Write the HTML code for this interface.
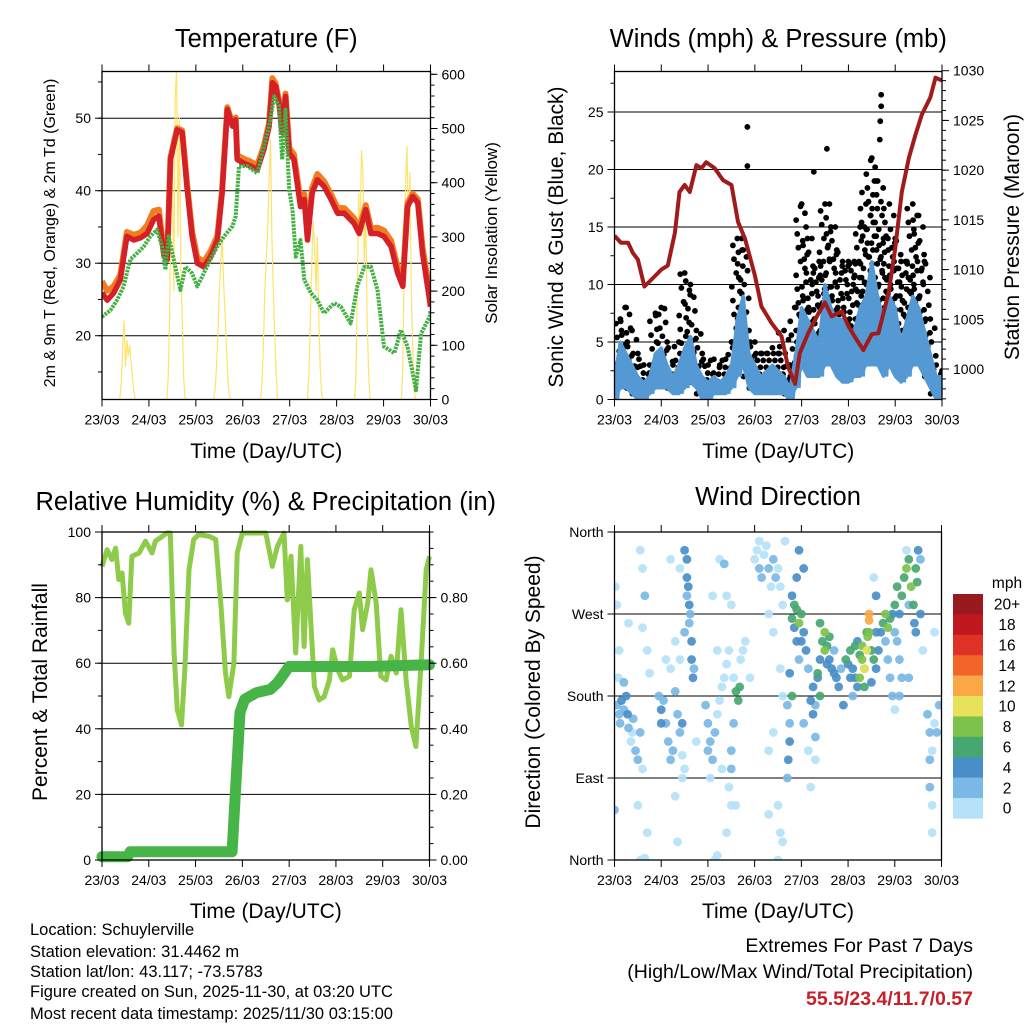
<!DOCTYPE html>
<html><head><meta charset="utf-8"><style>
html,body{margin:0;padding:0;background:#fff}
svg{display:block;font-family:"Liberation Sans",Arial,sans-serif}
</style></head><body>
<svg id="fig" width="1024" height="1024" viewBox="0 0 1024 1024" xmlns="http://www.w3.org/2000/svg">
<rect width="1024" height="1024" fill="#fff"/>
<g id="p1"></g>
<g id="p2"></g>
<g id="p3"></g>
<g id="p4"></g>
<g id="cb"></g>
<g font-size="16.5" fill="#000">
<text x="30" y="935">Location: Schuylerville</text>
<text x="30" y="957">Station elevation: 31.4462 m</text>
<text x="30" y="977">Station lat/lon: 43.117; -73.5783</text>
<text x="30" y="997">Figure created on Sun, 2025-11-30, at 03:20 UTC</text>
<text x="30" y="1019">Most recent data timestamp: 2025/11/30 03:15:00</text>
</g>
<g text-anchor="end" font-size="19.5">
<text x="973" y="952">Extremes For Past 7 Days</text>
<text x="973" y="978">(High/Low/Max Wind/Total Precipitation)</text>
<text x="973" y="1005" fill="#c8202a" font-weight="bold">55.5/23.4/11.7/0.57</text>
</g>
</svg>
<script>
// ---------- DATA ----------
const dayLabels = ["23/03","24/03","25/03","26/03","27/03","28/03","29/03","30/03"];
const tempT = [0,.11,.25,.39,.53,.68,.82,.96,1.10,1.21,1.32,1.39,1.46,1.60,1.71,1.81,1.92,2.03,2.17,2.31,2.46,2.56,2.67,2.78,2.85,2.88,3.02,3.17,3.31,3.45,3.56,3.63,3.70,3.77,3.84,3.91,3.99,4.09,4.23,4.31,4.38,4.48,4.59,4.73,4.88,5.02,5.16,5.37,5.48,5.62,5.73,5.87,6.01,6.16,6.30,6.41,6.51,6.62,6.73,6.83,6.98,7.0];
const temp2m = [25.9,24.9,25.9,27.7,33.7,33.2,33.5,34.1,36,36.5,31,30.5,44.3,48.4,48,40.6,33.7,30,29.5,30.9,33.2,39.7,51.2,48.9,49.8,44.3,43.8,43.4,42.9,45.7,48.9,54.9,54.4,52.1,48,53,45.2,44.3,37.8,38.8,33.2,39.7,41.5,40.6,38.8,36.9,36.9,35.5,34.1,37.4,34.1,34.1,33.7,32.3,28.6,26.8,37.8,39.2,38.3,31.4,24.9,24];
const temp9m = [27.5,26.2,26.8,28.4,34.3,33.9,34.2,35.2,37.2,37.4,31.6,30.9,44.6,48.6,48.3,41.2,34.4,30.8,30.2,31.6,33.8,40.1,51.5,49.2,50.1,44.9,44.4,44.0,43.5,46.2,49.3,55.5,54.8,52.5,48.5,53.4,45.9,45.0,38.6,39.5,34.0,40.4,42.3,41.3,39.5,37.6,37.6,36.2,34.8,38.0,34.8,34.9,34.5,33.1,29.4,27.6,38.3,39.6,38.8,32.2,26.0,24.8];
const dewT = [0,.18,.32,.46,.60,.75,.89,1.03,1.17,1.28,1.35,1.42,1.53,1.67,1.78,1.92,2.03,2.17,2.31,2.46,2.60,2.78,2.85,2.92,3.10,3.31,3.45,3.56,3.67,3.77,3.84,3.91,3.99,4.06,4.13,4.23,4.31,4.45,4.59,4.73,4.95,5.09,5.30,5.44,5.59,5.73,5.87,6.01,6.23,6.37,6.51,6.69,6.80,6.98,7.0];
const dewVals = [22.6,23.5,24.9,26.8,30.5,31.4,32.3,33.7,34.6,32.3,29.1,33.7,30.5,26.3,29.5,28.6,26.8,28.6,30.5,32.3,33.7,35.1,36.5,43.4,43.4,42.4,46.1,48.9,53,51.7,44.3,51.2,40.1,37.4,30.9,33.2,27.7,25.9,24.9,23.1,24.5,24,21.7,26.8,29.5,29.5,26.3,18.5,17.6,20.8,18.5,12.5,20.3,22.6,23.5];
const solarStart = [0.38,1.38,2.38,3.38,4.38,5.38,6.38];
const solarDay0 = [0,30,90,146,60,110,80,100,70,40,15,0,0,0,0,0];
const solarDay1 = [0,40,150,380,430,200,560,610,300,520,250,150,40,0,0,0];
const solarDay2 = [0,20,60,120,200,250,300,220,160,100,40,10,0,0,0,0];
const solarDay3 = [0,30,100,200,260,320,400,480,300,200,120,50,0,0,0,0];
const solarDay4 = [0,50,150,250,330,280,200,300,150,60,10,0,0,0,0,0];
const solarDay5 = [0,40,200,380,300,460,420,250,350,150,50,0,0,0,0,0];
const solarDay6 = [0,60,250,400,467,300,420,200,100,20,0,0,0,0,0,0];
const solarDays = [solarDay0,solarDay1,solarDay2,solarDay3,solarDay4,solarDay5,solarDay6];
const solarStep = 0.03;

const windT = [0,.125,.25,.375,.5,.625,.75,.875,1,1.125,1.25,1.375,1.5,1.625,1.75,1.875,2,2.125,2.25,2.375,2.5,2.625,2.75,2.875,3,3.125,3.25,3.375,3.5,3.625,3.75,3.875,4,4.125,4.25,4.375,4.5,4.625,4.75,4.875,5,5.125,5.25,5.375,5.5,5.625,5.75,5.875,6,6.125,6.25,6.375,6.5,6.625,6.75,6.875,7];
const windHi = [2,5,4,3,2,1.5,2,4,4.5,3,2,3,4.5,5.5,3,2,1.5,2,1.5,2,3,7,9,4,3,2,2.5,3,2.5,2,1,4,8,7,6,5,10,8,7,7,6,6,8,9,12,9,7,9,8,5,7,9,8,6,4,2,2];
const windLo = [0,1,1,.5,0,0,.5,1,1,1,.5,.5,1,1.5,1,0,0,.5,.5,.5,1,2,3,1,.5,.5,.5,.5,.5,.5,0,1,3,2,2,2,3,3,2,1.5,1.5,2,2,3,3,3,2,3,2,1.5,2,3,3,2,1,0,.5];
const gustVals = [3,7,8,6,4,3,3,7.5,8,5,3,5,11,10,6,4,3,3.5,3,3.5,5,14,13,6,5,4,4,4.5,4,6,3,8,17,14,11,12,17,15,13,12,12,12,15,17,21,19,14,17,14,12,12,17,16,12,7,3,2.5];
const gustOutT = [2.84,2.84,4.54,5.70,5.70,5.68,5.67,4.26,5.29];
const gustOutV = [23.7,20.3,21.8,26.5,25.5,24.2,22.6,19.8,18];
const presT = [0,.14,.29,.39,.5,.64,.79,1,1.14,1.29,1.39,1.5,1.61,1.75,1.86,1.96,2.14,2.32,2.5,2.64,2.79,3,3.14,3.36,3.57,3.71,3.86,3.96,4.14,4.36,4.5,4.64,4.86,5,5.18,5.32,5.5,5.64,5.86,6,6.14,6.29,6.43,6.57,6.75,6.86,7.0];
const presVals = [1013.4,1012.7,1012.7,1011.7,1011.0,1008.3,1009.0,1010.0,1010.4,1013.7,1017.8,1018.5,1017.8,1020.5,1020.2,1020.8,1020.2,1019.0,1018.5,1014.8,1013.1,1009.4,1006.3,1004.6,1003.3,1000.2,998.5,1001.6,1003.6,1005.6,1006.7,1005.3,1005.8,1004.3,1002.9,1001.9,1003.5,1003.6,1007.7,1012.1,1017.8,1021.2,1023.5,1025.6,1027.3,1029.3,1029.0];

const rhT = [0,.11,.21,.29,.36,.43,.5,.57,.64,.79,.93,1.07,1.14,1.29,1.39,1.46,1.54,1.61,1.7,1.77,1.86,1.96,2.07,2.29,2.43,2.54,2.64,2.71,2.82,2.89,3,3.5,3.64,3.75,3.89,3.96,4.04,4.14,4.25,4.32,4.39,4.46,4.54,4.64,4.75,4.86,4.93,5.04,5.14,5.29,5.39,5.5,5.57,5.68,5.75,5.86,5.96,6.07,6.18,6.29,6.39,6.5,6.61,6.71,6.82,6.93,7.0];
const rhVals = [89.5,94.6,91.6,95.1,85.5,87.5,75.3,72.2,92.6,93.6,97.2,93.6,97.2,98.7,99.7,99.7,63.1,45.8,41.2,58,88.5,97.7,99.2,98.7,97.7,78.3,57,49.8,60,93.6,99.7,99.7,89.5,95.6,99.7,79.3,92.6,63.1,95.6,65.1,91.6,73.2,52.9,48.8,49.8,54.9,64.1,58,54.9,56,76.3,81.4,70.2,78.3,88.5,78.3,56,54.9,62.1,57,76.3,54.9,40.7,34.6,60,88.5,92.6];
const precipT = [0,0.55,0.6,2.78,2.85,2.95,3.05,3.3,3.6,3.75,3.9,4.0,5.7,7.0];
const precipVals = [0.01,0.01,0.025,0.025,0.2,0.45,0.49,0.51,0.52,0.54,0.57,0.59,0.59,0.595];

const dirT = [0.05,0.1,0.12,0.15,0.2,0.25,0.28,0.3,0.35,0.4,0.45,0.5,0.55,0.6,0.08,0.1,0.02,0.05,0.3,0.55,0.6,0.65,0.6,0.7,0.75,0.5,0.7,0.55,0.65,0.0,0.2,0.38,
0.95,1.0,1.0,1.05,1.1,1.15,1.2,1.25,1.3,1.35,1.4,1.45,1.5,1.5,1.55,1.55,1.55,1.6,1.6,1.65,1.65,1.7,1.68,1.62,1.58,1.5,1.4,1.2,1.1,1.3,1.45,1.3,1.35,1.2,1.4,1.75,1.45,
1.95,2.0,2.05,2.0,2.1,2.15,2.2,2.25,2.3,2.35,2.4,2.45,2.2,2.1,2.25,2.35,2.4,2.5,2.55,2.6,2.65,2.68,2.55,2.5,2.5,2.45,2.5,2.4,2.15,2.2,2.7,2.75,2.8,2.6,2.9,2.3,2.05,
3.0,3.05,3.1,3.15,3.2,3.25,3.3,3.35,3.4,3.45,3.5,3.55,3.6,3.3,3.1,3.4,3.55,3.6,3.7,3.75,3.75,3.72,3.7,3.3,3.4,3.5,3.55,3.5,3.6,3.3,3.65,3.8,3.85,3.85,3.9,3.95,3.9,3.95,3.9,4.05,3.95,3.8,3.75,3.8,
4.0,4.05,4.1,4.15,4.2,4.25,4.3,4.35,4.4,4.45,4.5,4.55,4.6,4.65,4.7,4.75,4.8,4.85,4.9,4.4,4.35,4.5,4.3,4.4,4.6,4.55,4.05,4.15,4.2,4.3,4.25,4.7,4.95,4.0,
5.0,5.05,5.1,5.15,5.2,5.25,5.3,5.35,5.4,5.42,5.45,5.5,5.55,5.6,5.65,5.7,5.75,5.8,5.85,5.9,5.95,5.25,5.35,5.45,5.45,5.5,5.2,5.1,5.6,5.8,5.85,5.9,5.95,6.0,5.4,5.3,5.35,5.6,5.55,5.05,5.15,
6.0,6.05,6.1,6.15,6.2,6.25,6.3,6.35,6.4,6.45,6.5,6.48,6.42,6.05,6.1,6.15,6.1,6.0,6.6,6.7,6.75,6.8,6.85,6.75,6.8,6.8,6.75,6.9,6.95,6.85,6.25,6.3,6.55,6.55,6.3,6.45];
const dirDeg = [170,160,150,175,165,180,160,145,130,155,120,110,140,100,200,230,300,280,260,340,320,290,255,230,205,60,30,0,2,55,195,140,
180,165,150,175,150,130,110,120,185,160,140,115,100,340,330,310,290,280,260,240,220,210,200,270,300,250,220,210,220,240,90,70,20,330,320,130,150,
170,150,130,120,110,140,160,175,190,200,215,230,230,290,330,325,290,280,200,185,175,190,150,120,100,80,60,30,0,5,220,230,240,60,200,100,90,
330,340,320,310,335,345,320,300,330,310,320,300,280,270,350,250,210,180,170,150,130,110,90,120,140,60,30,0,20,50,350,265,280,255,240,260,275,220,310,320,340,290,205,180,
270,250,230,210,175,160,170,200,220,240,250,235,220,210,230,200,190,210,170,260,205,230,135,180,245,215,150,120,80,110,190,205,220,240,
215,230,210,200,190,225,220,210,230,245,250,230,220,210,230,250,260,270,255,265,270,200,190,270,263,195,240,180,250,240,220,200,180,165,250,235,210,290,310,200,235,
280,300,270,290,310,320,330,300,280,320,340,305,260,240,220,200,180,250,230,160,140,120,150,110,60,30,80,140,170,250,340,280,330,270,200,250];
const dirSpd = [2,3,3,4,2,4,4,3,1,2,2,3,3,1,1,1,0,1,0,0,1,2,1,0,1,1,1,0,0,2,2,1,
2,4,4,3,3,2,3,2,2,3,2,1,0,4,4,4,3,4,3,4,4,3,5,3,5,2,1,1,1,1,1,0,0,1,0,1,4,
2,2,3,2,3,2,1,1,1,1,0,1,1,1,1,2,1,1,1,7,6,7,3,3,2,1,1,1,1,0,1,1,0,1,1,1,0,
1,1,2,2,1,0,2,1,2,3,1,1,0,0,0,1,1,1,3,2,4,4,3,0,1,1,1,1,1,1,1,6,6,4,4,8,6,3,4,4,4,4,4,7,
6,4,4,3,4,4,3,4,5,7,8,6,4,4,3,4,4,3,4,7,7,8,2,6,6,4,2,1,0,1,5,4,6,4,
4,6,5,4,4,7,8,9,10,9,8,7,6,5,4,5,6,8,8,6,4,8,6,12,13,4,4,3,5,3,2,2,2,1,6,9,10,4,1,4,6,
6,6,4,7,7,8,7,8,6,7,5,6,4,3,2,2,3,2,1,2,2,1,1,2,1,1,2,3,2,1,1,2,3,5,2,4];
const cbLabels = ["20+","18","16","14","12","10","8","6","4","2","0"];
const cbColors = ["#981a1e","#c0181f","#e03127","#f26529","#f9a845","#e8e25a","#7dc24b","#47a771","#4a8ec8","#7ab8e5","#b5e2f8"];

// ---------- RENDER ----------
const NS="http://www.w3.org/2000/svg";
function mk(parent,tag,attrs){const e=document.createElementNS(NS,tag);for(const k in attrs)e.setAttribute(k,attrs[k]);parent.appendChild(e);return e;}
function txt(parent,x,y,s,size,anchor,rot){const t=mk(parent,"text",{x:x,y:y,"font-size":size,"text-anchor":anchor||"middle"});if(rot)t.setAttribute("transform","rotate(-90 "+x+" "+y+")");t.textContent=s;return t;}
function lin(d0,d1,r0,r1){return v=>r0+(v-d0)/(d1-d0)*(r1-r0);}

function frame(g,P,title,ty,xlabelY){
  for(let i=0;i<8;i++){const x=P.xs(i);
    const tk=mk(g,"line",{x1:x,x2:x,y1:P.b,y2:P.b+7,stroke:"#000","stroke-width":1});
    
    mk(g,"line",{x1:x,x2:x,y1:P.t,y2:P.t-7,stroke:"#000","stroke-width":1});
    const l=txt(g,x,P.b+25,dayLabels[i],14);
    
  }
  const t=txt(g,(P.l+P.r)/2,ty,title,25.5);
  
  const xl=txt(g,(P.l+P.r)/2,xlabelY,"Time (Day/UTC)",21);
  
}
function box(g,P){const r=mk(g,"rect",{x:P.l,y:P.t,width:P.r-P.l,height:P.b-P.t,fill:"none",stroke:"#000","stroke-width":1.3});
  }
function yTicks(g,P,ys,side,majors,minors,fmt){
  const x=side==="l"?P.l:P.r, dir=side==="l"?-1:1;
  minors.forEach(v=>{const y=ys(v);if(y<P.t-0.5||y>P.b+0.5)return;mk(g,"line",{x1:x,x2:x+dir*4,y1:y,y2:y,stroke:"#000","stroke-width":1});});
  majors.forEach(v=>{const y=ys(v);mk(g,"line",{x1:x,x2:x+dir*7,y1:y,y2:y,stroke:"#000","stroke-width":1});
    const l=txt(g,x+dir*11,y+5,fmt(v),14,side==="l"?"end":"start");
    });
}
function grid(g,P,ys,vals){vals.forEach(v=>{const y=ys(v);const l=mk(g,"line",{x1:P.l,x2:P.r,y1:y,y2:y,stroke:"#000","stroke-width":1});
  });}
function range(a,b,s){const r=[];for(let v=a;v<=b+1e-9;v+=s)r.push(+v.toFixed(4));return r;}
function pathOf(xs,ys,T,V){return T.map((t,i)=>(i?"L":"M")+xs(t).toFixed(1)+","+ys(V[i]).toFixed(1)).join("");}

// Panel 1
(function(){
  const g=document.getElementById("p1");
  const P={l:102,r:430.5,t:71.5,b:399.5};P.xs=lin(0,7,P.l,P.r);
  const ys=lin(20,30,335.7,263.2), ss=lin(0,100,399.5,345.3);
  grid(g,P,ys,[20,30,40,50]);
  const cp=mk(g,"clipPath",{id:"c1"});mk(cp,"rect",{x:P.l,y:P.t,width:P.r-P.l,height:P.b-P.t});
  const d=mk(g,"g",{"clip-path":"url(#c1)"});
  solarDays.forEach((arr,k)=>{const T=arr.map((_,i)=>solarStart[k]+i*solarStep);
    const p=mk(d,"path",{d:pathOf(P.xs,ss,T,arr),fill:"none",stroke:"#fde36a","stroke-width":1.2});
    });
  const o=mk(d,"path",{d:pathOf(P.xs,ys,tempT,temp9m),fill:"none",stroke:"#f47c20","stroke-width":6,"stroke-linejoin":"round"});
  
  const r=mk(d,"path",{d:pathOf(P.xs,ys,tempT,temp2m),fill:"none",stroke:"#d42027","stroke-width":5.5,"stroke-linejoin":"round"});
  
  const gr=mk(d,"path",{d:pathOf(P.xs,ys,dewT,dewVals),fill:"none",stroke:"#44b044","stroke-width":4,"stroke-dasharray":"2.5 1","stroke-linejoin":"round"});
  
  box(g,P);
  yTicks(g,P,ys,"l",[20,30,40,50],range(15,55,5),v=>String(v));
  yTicks(g,P,ss,"r",[0,100,200,300,400,500,600],range(0,600,20),v=>String(v));
  frame(g,P,"Temperature (F)",47,458);
  const a=txt(g,55,233,"2m & 9m T (Red, Orange) & 2m Td (Green)",16,"middle",true);
  
  const b=txt(g,497,233,"Solar Insolation (Yellow)",17,"middle",true);
  
})();

// Panel 2
(function(){
  const g=document.getElementById("p2");
  const P={l:614.5,r:942,t:71.5,b:399.5};P.xs=lin(0,7,P.l,P.r);
  const ys=lin(0,5,399.5,342), ps=lin(1000,1030,369,70.7);
  grid(g,P,ys,[5,10,15,20,25]);
  const cp=mk(g,"clipPath",{id:"c2"});mk(cp,"rect",{x:P.l,y:P.t-4,width:P.r-P.l,height:P.b-P.t+4});
  const d=mk(g,"g",{"clip-path":"url(#c2)"});
  const pat=[-2.5,1.5,-0.5,2.5,-1.5,0.5,-2,2];
  windT.forEach((t,i)=>{let k=0;
    for(let v=Math.max(windLo[i]+0.5,windHi[i]-2);v<=gustVals[i]+1e-6;v+=0.6){
      const c=mk(d,"circle",{cx:P.xs(t)+pat[k%8]*2.2,cy:ys(v),r:2.9,fill:"#000"});
      k++;}
    const c=mk(d,"circle",{cx:P.xs(t),cy:ys(gustVals[i]),r:2.9,fill:"#000"});
    
  });
  gustOutT.forEach((t,i)=>{const c=mk(d,"circle",{cx:P.xs(t),cy:ys(gustOutV[i]),r:2.9,fill:"#000"});
    });
  let pts=windT.map((t,i)=>P.xs(t).toFixed(1)+","+ys(windHi[i]).toFixed(1));
  for(let i=windT.length-1;i>=0;i--)pts.push(P.xs(windT[i]).toFixed(1)+","+ys(windLo[i]).toFixed(1));
  const band=mk(d,"polygon",{points:pts.join(" "),fill:"#5499d3",stroke:"#5499d3","stroke-width":3,"stroke-linejoin":"round"});
  
  let zz="";windT.forEach((t,i)=>{zz+=(i?"L":"M")+P.xs(t).toFixed(1)+","+ys(windHi[i]).toFixed(1);
    if(i<windT.length-1)zz+="L"+P.xs(t+0.0625).toFixed(1)+","+ys(windLo[i]).toFixed(1);});
  const zl=mk(d,"path",{d:zz,fill:"none",stroke:"#5499d3","stroke-width":4});
  
  const pr=mk(d,"path",{d:pathOf(P.xs,ps,presT,presVals),fill:"none",stroke:"#a01c1c","stroke-width":4,"stroke-linejoin":"round"});
  
  box(g,P);
  yTicks(g,P,ys,"l",[0,5,10,15,20,25],range(0,27.5,2.5),v=>String(v));
  yTicks(g,P,ps,"r",[1000,1005,1010,1015,1020,1025,1030],range(997,1030,1),v=>String(v));
  frame(g,P,"Winds (mph) & Pressure (mb)",47,458);
  const a=txt(g,563,237,"Sonic Wind & Gust (Blue, Black)",21,"middle",true);
  
  const b=txt(g,1019,237,"Station Pressure (Maroon)",21,"middle",true);
  
})();

// Panel 3
(function(){
  const g=document.getElementById("p3");
  const P={l:102,r:429.5,t:532,b:860};P.xs=lin(0,7,P.l,P.r);
  const ys=lin(0,100,860,532), ps=lin(0,1,860,532);
  grid(g,P,ys,[20,40,60,80]);
  const cp=mk(g,"clipPath",{id:"c3"});mk(cp,"rect",{x:P.l-6,y:P.t-4,width:P.r-P.l+12,height:P.b-P.t+10});
  const d=mk(g,"g",{"clip-path":"url(#c3)"});
  const rh=mk(d,"path",{d:pathOf(P.xs,ys,rhT,rhVals),fill:"none",stroke:"#8fcb4a","stroke-width":5,"stroke-linejoin":"round"});
  
  const pc=mk(d,"path",{d:pathOf(P.xs,ps,precipT,precipVals),fill:"none",stroke:"#47b447","stroke-width":11,"stroke-linejoin":"round","stroke-linecap":"round"});
  
  box(g,P);
  yTicks(g,P,ys,"l",[0,20,40,60,80,100],range(0,100,10),v=>String(v));
  yTicks(g,P,ps,"r",[0,0.2,0.4,0.6,0.8],range(0,1,0.05),v=>v.toFixed(2));
  frame(g,P,"Relative Humidity (%) & Precipitation (in)",510,918);
  const a=txt(g,47,692,"Percent & Total Rainfall",21,"middle",true);
  
})();

// Panel 4
(function(){
  const g=document.getElementById("p4");
  const P={l:614.5,r:941.5,t:532,b:860};P.xs=lin(0,7,P.l,P.r);
  const ys=lin(0,360,860,532);
  grid(g,P,ys,[90,180,270]);
  const cp=mk(g,"clipPath",{id:"c4"});mk(cp,"rect",{x:P.l,y:P.t,width:P.r-P.l,height:P.b-P.t});
  const d=mk(g,"g",{"clip-path":"url(#c4)"});
  const order=dirSpd.map((s,i)=>i).sort((a,b)=>dirSpd[a]-dirSpd[b]);
  order.forEach(i=>{const s=dirSpd[i];const idx=Math.min(10,Math.floor(s/2));
    const c=mk(d,"circle",{cx:P.xs(dirT[i]),cy:ys(dirDeg[i]),r:4.4,fill:cbColors[10-idx],opacity:0.92});
    });
  box(g,P);
  const names=["North","East","South","West","North"];
  yTicks(g,P,ys,"l",[0,90,180,270,360],[],v=>names[v/90]);
  frame(g,P,"Wind Direction",505,918);
  const a=txt(g,540,692,"Direction (Colored By Speed)",21,"middle",true);
  
})();

// Colorbar
(function(){
  const g=document.getElementById("cb");
  const top=594,h=20.4;
  cbColors.forEach((c,i)=>{const r=mk(g,"rect",{x:953,y:top+i*h,width:30,height:h+0.3,fill:c});
    
    const l=txt(g,1007,top+i*h+h/2+5.5,cbLabels[i],15.5);
    });
  const u=txt(g,1007,588,"mph",15.5);
  
})();
</script>
</body></html>
